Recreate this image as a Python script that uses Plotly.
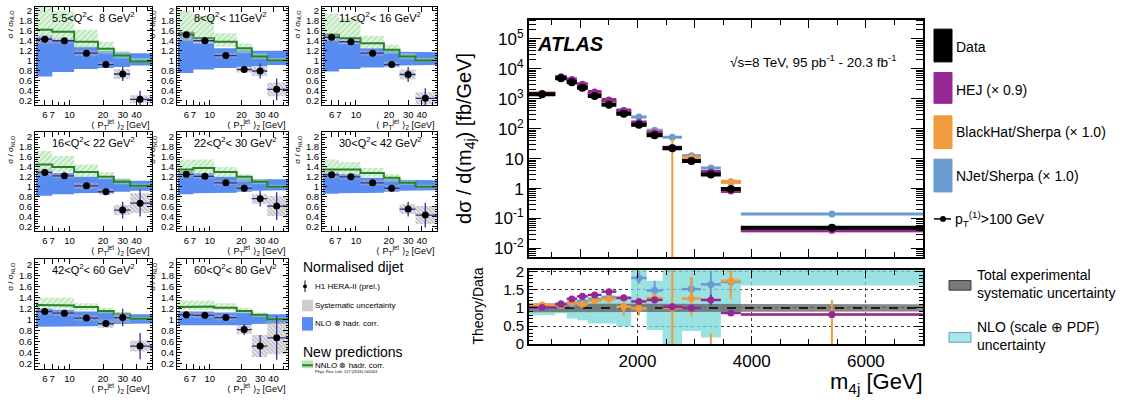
import plotly.graph_objects as go
import math

W, H = 1131, 407
def fx(x): return x / W
def fy(y): return 1 - y / H

# ------------------------------------------------------------------
# LEFT: H1 normalised dijet, sigma / sigma_NLO
# ------------------------------------------------------------------
pt_edges = [5, 7, 11, 18, 25, 35, 55]
pt_points = [6.0, 9.0, 14.2, 21.2, 30.0, 43.0]
pt_ticks = [6, 7, 10, 20, 30, 40]

q2_titles = ["5.5&lt;Q<sup>2</sup>&lt;  8 GeV<sup>2</sup>",
             "8&lt;Q<sup>2</sup>&lt; 11GeV<sup>2</sup>",
             "11&lt;Q<sup>2</sup>&lt; 16 GeV<sup>2</sup>",
             "16&lt;Q<sup>2</sup>&lt; 22 GeV<sup>2</sup>",
             "22&lt;Q<sup>2</sup>&lt; 30 GeV<sup>2</sup>",
             "30&lt;Q<sup>2</sup>&lt; 42 GeV<sup>2</sup>",
             "42&lt;Q<sup>2</sup>&lt; 60 GeV<sup>2</sup>",
             "60&lt;Q<sup>2</sup>&lt; 80 GeV<sup>2</sup>"]

h1_data = [[1.43, 1.40, 1.15, 0.92, 0.73, 0.22],
           [1.52, 1.40, 1.10, 0.82, 0.79, 0.42],
           [1.47, 1.38, 1.15, 0.92, 0.72, 0.24],
           [1.29, 1.22, 1.02, 0.90, 0.53, 0.67],
           [1.25, 1.21, 1.08, 0.97, 0.76, 0.61],
           [1.24, 1.20, 1.08, 0.97, 0.55, 0.43],
           [1.15, 1.12, 1.03, 0.93, 1.04, 0.52],
           [1.09, 1.08, 1.04, 0.82, 0.52, 0.67]]
h1_stat = [[0.06, 0.03, 0.04, 0.04, 0.14, 0.17],
           [0.06, 0.03, 0.04, 0.06, 0.15, 0.22],
           [0.06, 0.03, 0.04, 0.06, 0.15, 0.20],
           [0.05, 0.04, 0.04, 0.06, 0.17, 0.27],
           [0.05, 0.03, 0.04, 0.07, 0.16, 0.28],
           [0.05, 0.04, 0.04, 0.07, 0.15, 0.25],
           [0.05, 0.03, 0.04, 0.06, 0.16, 0.24],
           [0.07, 0.04, 0.05, 0.10, 0.20, 0.40]]
h1_syst = [[0.09, 0.05, 0.06, 0.05, 0.10, 0.08],
           [0.08, 0.05, 0.05, 0.06, 0.10, 0.14],
           [0.08, 0.05, 0.05, 0.06, 0.10, 0.12],
           [0.08, 0.05, 0.06, 0.06, 0.10, 0.20],
           [0.07, 0.05, 0.05, 0.06, 0.10, 0.20],
           [0.07, 0.05, 0.05, 0.06, 0.10, 0.18],
           [0.06, 0.05, 0.05, 0.08, 0.10, 0.10],
           [0.06, 0.05, 0.05, 0.08, 0.20, 0.30]]
nlo_lo = [[0.68, 0.77, 0.83, 0.85, 0.87, 0.90],
          [0.75, 0.82, 0.85, 0.87, 0.89, 0.91],
          [0.78, 0.83, 0.86, 0.88, 0.90, 0.91],
          [0.82, 0.85, 0.87, 0.88, 0.90, 0.92],
          [0.85, 0.87, 0.88, 0.90, 0.92, 0.93],
          [0.86, 0.87, 0.88, 0.90, 0.92, 0.93],
          [0.87, 0.88, 0.88, 0.90, 0.92, 0.93],
          [0.90, 0.90, 0.90, 0.90, 0.92, 0.93]]
nlo_hi = [[1.47, 1.40, 1.28, 1.20, 1.17, 1.15],
          [1.50, 1.35, 1.25, 1.22, 1.20, 1.20],
          [1.45, 1.35, 1.25, 1.20, 1.18, 1.17],
          [1.32, 1.28, 1.20, 1.17, 1.15, 1.12],
          [1.32, 1.28, 1.20, 1.17, 1.15, 1.15],
          [1.28, 1.25, 1.18, 1.16, 1.14, 1.13],
          [1.20, 1.18, 1.15, 1.15, 1.12, 1.10],
          [1.15, 1.15, 1.13, 1.13, 1.10, 1.10]]
nnlo_c = [[1.62, 1.58, 1.38, 1.24, 1.10, 0.98],
          [1.55, 1.45, 1.38, 1.25, 1.08, 1.00],
          [1.52, 1.45, 1.35, 1.22, 1.08, 1.00],
          [1.45, 1.40, 1.30, 1.20, 1.10, 1.02],
          [1.35, 1.38, 1.30, 1.20, 1.10, 1.00],
          [1.35, 1.35, 1.28, 1.18, 1.08, 1.00],
          [1.27, 1.26, 1.23, 1.16, 1.10, 1.02],
          [1.23, 1.24, 1.22, 1.16, 1.09, 1.01]]
nnlo_lo = [[1.48, 1.42, 1.26, 1.14, 1.04, 0.95],
           [1.40, 1.36, 1.28, 1.15, 1.03, 0.97],
           [1.40, 1.35, 1.25, 1.14, 1.03, 0.97],
           [1.30, 1.30, 1.20, 1.15, 1.05, 0.99],
           [1.25, 1.25, 1.20, 1.10, 1.05, 0.97],
           [1.25, 1.25, 1.20, 1.10, 1.04, 0.97],
           [1.22, 1.20, 1.17, 1.12, 1.06, 0.99],
           [1.18, 1.18, 1.17, 1.12, 1.05, 0.98]]
nnlo_hi = [[2.10, 2.00, 1.62, 1.38, 1.20, 1.05],
           [2.00, 1.90, 1.55, 1.35, 1.15, 1.05],
           [1.95, 1.85, 1.50, 1.32, 1.15, 1.05],
           [1.72, 1.62, 1.45, 1.30, 1.17, 1.06],
           [1.55, 1.55, 1.40, 1.25, 1.15, 1.04],
           [1.55, 1.50, 1.38, 1.25, 1.13, 1.04],
           [1.40, 1.40, 1.30, 1.22, 1.14, 1.05],
           [1.35, 1.35, 1.30, 1.22, 1.13, 1.04]]

h1_cols = [(35, 152), (177, 288), (322, 437)]
h1_rows = [(0, 102), (130, 233), (262, 376)]

NLO_BLUE = "rgb(88,140,240)"
GREEN = "rgb(40,130,40)"
ERRBLUE = "rgb(45,45,170)"

fig = go.Figure()
layout = dict(width=W, height=H, margin=dict(l=0, r=0, t=0, b=0),
              paper_bgcolor="white", plot_bgcolor="rgba(0,0,0,0)", showlegend=False,
              font=dict(family="Liberation Sans, Arial, sans-serif", color="black"))
annotations = []
shapes = []

def band_poly(edges, lo, hi):
    xs, ys = [], []
    for i in range(len(lo)):
        xs += [edges[i], edges[i + 1]]
        ys += [hi[i], hi[i]]
    for i in reversed(range(len(lo))):
        xs += [edges[i + 1], edges[i]]
        ys += [lo[i], lo[i]]
    xs.append(xs[0]); ys.append(ys[0])
    return xs, ys

def boxes(edges, c, half):
    xs, ys = [], []
    for i in range(len(c)):
        xs += [edges[i], edges[i + 1], edges[i + 1], edges[i], edges[i], None]
        ys += [c[i] - half[i], c[i] - half[i], c[i] + half[i], c[i] + half[i], c[i] - half[i], None]
    return xs, ys

def steps(edges, v):
    xs, ys = [], []
    for i in range(len(v)):
        xs += [edges[i], edges[i + 1]]
        ys += [v[i], v[i]]
    return xs, ys

y_tickvals = [0.2, 0.4, 0.6, 0.8, 1.0, 1.2, 1.4, 1.6, 1.8, 2.0]
y_ticktext = ["0.2", "0.4", "0.6", "0.8", "1", "1.2", "1.4", "1.6", "1.8", "2"]

for p in range(8):
    n = p + 1
    r, c = divmod(p, 3)
    x0, x1 = h1_cols[c]
    y0, y1 = h1_rows[r]
    xa, ya = "x%d" % n, "y%d" % n
    ax_suffix = "" if n == 1 else str(n)
    yr = [0.1, 2.08] if r == 0 else [0.1, 2.1]
    layout["xaxis" + ax_suffix] = dict(
        domain=[fx(x0), fx(x1)], anchor=ya, type="log",
        range=[math.log10(4.9), math.log10(55)],
        tickmode="array", tickvals=pt_ticks, ticktext=[str(t) for t in pt_ticks], tickangle=0,
        ticks="inside", ticklen=5, tickcolor="black", showline=True, linecolor="black",
        linewidth=1, mirror="ticks", showgrid=False, zeroline=False,
        tickfont=dict(size=9.5),
        minor=dict(tickmode="array", tickvals=[5, 8, 9, 50], ticks="inside", ticklen=3,
                   tickcolor="black", showgrid=False))
    layout["yaxis" + ax_suffix] = dict(
        domain=[fy(y1), fy(y0)], anchor=xa, range=yr,
        tickmode="array", tickvals=y_tickvals, ticktext=y_ticktext,
        ticks="inside", ticklen=5, tickcolor="black", showline=True, linecolor="black",
        linewidth=1, mirror="ticks", showgrid=False, zeroline=False,
        tickfont=dict(size=9.5),
        minor=dict(dtick=0.05, ticks="inside", ticklen=2.5, tickcolor="black", showgrid=False))

    bx, by = band_poly(pt_edges, nlo_lo[p], nlo_hi[p])
    fig.add_trace(go.Scatter(x=bx, y=by, xaxis=xa, yaxis=ya, mode="lines", fill="toself",
                             fillcolor=NLO_BLUE, line=dict(width=0), hoverinfo="skip"))
    gx, gy = band_poly(pt_edges, nnlo_lo[p], nnlo_hi[p])
    fig.add_trace(go.Scatter(x=gx, y=gy, xaxis=xa, yaxis=ya, mode="lines", fill="toself",
                             fillcolor="rgba(0,0,0,0)",
                             fillpattern=dict(shape="/", fgcolor="rgba(110,200,110,0.9)",
                                              bgcolor="rgba(190,235,190,0.45)", size=4, solidity=0.35),
                             line=dict(width=0), hoverinfo="skip"))
    sx, sy = steps(pt_edges, nnlo_c[p])
    fig.add_trace(go.Scatter(x=sx, y=sy, xaxis=xa, yaxis=ya, mode="lines",
                             line=dict(color=GREEN, width=2), hoverinfo="skip"))
    ox, oy = boxes(pt_edges, h1_data[p], h1_syst[p])
    fig.add_trace(go.Scatter(x=ox, y=oy, xaxis=xa, yaxis=ya, mode="lines", fill="toself",
                             fillcolor="rgba(0,0,0,0)",
                             fillpattern=dict(shape="\\", fgcolor="rgba(90,90,90,0.85)",
                                              bgcolor="rgba(200,200,200,0.45)", size=3, solidity=0.3),
                             line=dict(width=0), hoverinfo="skip"))
    fig.add_trace(go.Scatter(
        x=pt_points, y=h1_data[p], xaxis=xa, yaxis=ya, mode="markers",
        marker=dict(color="black", size=7),
        error_y=dict(type="data", array=h1_stat[p], color=ERRBLUE, thickness=1.3, width=0),
        error_x=dict(type="data",
                     array=[pt_edges[i + 1] - pt_points[i] for i in range(6)],
                     arrayminus=[pt_points[i] - pt_edges[i] for i in range(6)],
                     color=ERRBLUE, thickness=1.3, width=0),
        hoverinfo="skip"))

    annotations.append(dict(xref="paper", yref="paper", x=fx(x0 + 15), y=fy(y0 + 10),
                            text=q2_titles[p], showarrow=False, xanchor="left", yanchor="middle",
                            font=dict(size=11)))
    annotations.append(dict(xref="paper", yref="paper", x=fx(x0 - 24), y=fy(y0 + 1),
                            text="σ / σ<sub>NLO</sub>", textangle=-90, showarrow=False,
                            xanchor="center", yanchor="top", font=dict(size=8)))
    annotations.append(dict(xref="paper", yref="paper", x=fx(x1), y=fy(y1 + 11),
                            text="⟨ P<sub>T</sub><sup>jet</sup> ⟩<sub>2</sub> [GeV]", showarrow=False,
                            xanchor="right", yanchor="top", font=dict(size=9)))

# left legend
annotations += [
    dict(xref="paper", yref="paper", x=fx(301), y=fy(270), text="Normalised dijet", showarrow=False,
         xanchor="left", yanchor="middle", font=dict(size=14)),
    dict(xref="paper", yref="paper", x=fx(313), y=fy(290), text="H1 HERA-II (prel.)", showarrow=False,
         xanchor="left", yanchor="middle", font=dict(size=8)),
    dict(xref="paper", yref="paper", x=fx(313), y=fy(310), text="Systematic uncertainty", showarrow=False,
         xanchor="left", yanchor="middle", font=dict(size=8)),
    dict(xref="paper", yref="paper", x=fx(313), y=fy(329), text="NLO ⊗ hadr. corr.", showarrow=False,
         xanchor="left", yanchor="middle", font=dict(size=8)),
    dict(xref="paper", yref="paper", x=fx(301), y=fy(358), text="New predictions", showarrow=False,
         xanchor="left", yanchor="middle", font=dict(size=14)),
    dict(xref="paper", yref="paper", x=fx(313), y=fy(372), text="NNLO ⊗ hadr. corr.", showarrow=False,
         xanchor="left", yanchor="middle", font=dict(size=8)),
    dict(xref="paper", yref="paper", x=fx(313), y=fy(378), text="Phys. Rev. Lett. 117 (2016) 042001",
         showarrow=False, xanchor="left", yanchor="middle", font=dict(size=4)),
]
shapes += [
    dict(type="line", xref="paper", yref="paper", x0=fx(305), x1=fx(305), y0=fy(284), y1=fy(296),
         line=dict(color="black", width=1)),
    dict(type="circle", xref="paper", yref="paper", x0=fx(303), x1=fx(307), y0=fy(292), y1=fy(288),
         fillcolor="black", line=dict(width=0)),
    dict(type="rect", xref="paper", yref="paper", x0=fx(302), x1=fx(313), y0=fy(316), y1=fy(304),
         fillcolor="rgb(205,205,205)", line=dict(width=0)),
    dict(type="rect", xref="paper", yref="paper", x0=fx(302), x1=fx(313), y0=fy(336), y1=fy(322),
         fillcolor=NLO_BLUE, line=dict(width=0)),
    dict(type="rect", xref="paper", yref="paper", x0=fx(302), x1=fx(313), y0=fy(375), y1=fy(367),
         fillcolor="rgb(180,230,180)", line=dict(width=0)),
    dict(type="line", xref="paper", yref="paper", x0=fx(302), x1=fx(313), y0=fy(372), y1=fy(372),
         line=dict(color=GREEN, width=2)),
]

# ------------------------------------------------------------------
# RIGHT: ATLAS m4j
# ------------------------------------------------------------------
m4j_edges = [100, 560, 760, 940, 1130, 1370, 1630, 1890, 2160, 2440, 2780, 3110, 3460, 3810, 7000]
data_xs = [1420, 4900, 3550, 2330, 1230, 630, 316, 136, 60, 22.4, 8.3, 2.95, 0.97, 0.049]
hej_ratio = [1.01, 1.10, 1.25, 1.32, 1.36, 1.45, 1.28, 1.18, 1.22, 1.03, 1.00, 1.22, 0.86, 0.82]
hej_err = [0.03, 0.03, 0.03, 0.04, 0.04, 0.04, 0.05, 0.05, 0.08, 0.10, 0.10, 0.15, 0.05, 0.05]
bh_ratio = [1.08, 1.07, 1.15, 1.10, 1.20, 1.25, 1.03, 0.99, 1.27, 1.00, 1.26, -0.30, 1.75, 0.82]
bh_err_up = [0.05, 0.05, 0.05, 0.05, 0.08, 0.08, 0.20, 0.20, 0.15, 1.05, 0.60, 0.60, 0.40, 0.40]
bh_err_dn = [0.05, 0.05, 0.05, 0.05, 0.08, 0.08, 0.25, 0.20, 0.15, 1.00, 0.50, 0.60, 0.50, 0.82]
bh_main_dn = [0.05, 0.05, 0.05, 0.05, 0.08, 0.08, 0.25, 0.20, 0.15, 1.00, 0.50, 0.60, 0.30, 0.05]
nj_ratio = [1.00, 1.12, 1.11, 1.18, 1.24, 1.29, 1.27, 1.83, 1.48, 2.30, 1.52, 1.65, 1.72, 2.90]
nj_err = [0.03, 0.03, 0.04, 0.05, 0.05, 0.06, 0.08, 0.15, 0.27, 0.30, 0.30, 0.35, 0.30, 0.10]
nlo_unc_lo = [0.80, 0.85, 0.71, 0.66, 0.57, 0.57, 0.48, 0.95, 0.39, 0.00, 0.36, 0.18, 0.85, 1.62]
nlo_unc_hi = [1.12, 1.15, 1.20, 1.25, 1.30, 1.35, 1.30, 2.05, 1.75, 2.05, 2.05, 2.05, 2.05, 2.05]
syst_unc = [0.12, 0.11, 0.10, 0.10, 0.10, 0.10, 0.10, 0.10, 0.10, 0.10, 0.10, 0.10, 0.10, 0.10]

m4j_c = [(m4j_edges[i] + m4j_edges[i + 1]) / 2 for i in range(14)]
ex_r = [m4j_edges[i + 1] - m4j_c[i] for i in range(14)]
ex_l = [m4j_c[i] - m4j_edges[i] for i in range(14)]

C_DATA = "black"
C_HEJ = "rgb(150,40,150)"
C_BH = "rgb(240,155,60)"
C_NJ = "rgb(105,155,210)"
C_CYAN = "rgba(120,215,215,0.75)"
C_GRAY = "rgba(95,95,95,0.75)"

MX0, MX1, MY0, MY1 = 529, 923, 13, 260
RX0, RX1, RY0, RY1 = 529, 923, 273, 350

dec_vals = [1e-2, 1e-1, 1, 10, 1e2, 1e3, 1e4, 1e5]
dec_text = ["10<sup>-2</sup>", "10<sup>-1</sup>", "1", "10", "10<sup>2</sup>", "10<sup>3</sup>",
            "10<sup>4</sup>", "10<sup>5</sup>"]
minor_log = [k * 10.0 ** d for d in range(-3, 6) for k in range(2, 10)]

layout["xaxis9"] = dict(domain=[fx(MX0), fx(MX1)], anchor="y9", range=[100, 7000],
                        showticklabels=False, dtick=1000, tick0=0, ticks="inside", ticklen=8,
                        tickcolor="black", showline=True, linecolor="black", linewidth=2,
                        mirror="ticks", showgrid=False, zeroline=False,
                        minor=dict(dtick=500, ticks="inside", ticklen=5, tickcolor="black"))
layout["yaxis9"] = dict(domain=[fy(MY1), fy(MY0)], anchor="x9", type="log",
                        range=[math.log10(0.005), 5.65], tickmode="array", tickvals=dec_vals,
                        ticktext=dec_text, ticks="inside", ticklen=12, tickcolor="black",
                        showline=True, linecolor="black", linewidth=2, mirror="ticks",
                        showgrid=False, zeroline=False, tickfont=dict(size=17),
                        minor=dict(tickmode="array", tickvals=minor_log, ticks="inside", ticklen=7,
                                   tickcolor="black", showgrid=False))
layout["xaxis10"] = dict(domain=[fx(RX0), fx(RX1)], anchor="y10", range=[100, 7000],
                         tickmode="array", tickvals=[2000, 4000, 6000], ticktext=["2000", "4000", "6000"],
                         ticks="inside", ticklen=8, tickcolor="black", showline=True, linecolor="black",
                         linewidth=2, mirror="ticks", showgrid=True, gridcolor="rgb(60,60,60)",
                         griddash="dot", gridwidth=1, zeroline=False, tickfont=dict(size=17),
                         minor=dict(dtick=500, tick0=0, ticks="inside", ticklen=5, tickcolor="black"))
layout["yaxis10"] = dict(domain=[fy(RY1), fy(RY0)], anchor="x10", range=[0, 2.05],
                         tickmode="array", tickvals=[0, 0.5, 1, 1.5, 2], ticktext=["0", "0.5", "1", "1.5", "2"],
                         ticks="inside", ticklen=8, tickcolor="black", showline=True, linecolor="black",
                         linewidth=2, mirror="ticks", showgrid=True, gridcolor="rgb(60,60,60)",
                         griddash="dot", gridwidth=1, zeroline=False, tickfont=dict(size=15),
                         minor=dict(dtick=0.1, tick0=0, ticks="inside", ticklen=4, tickcolor="black",
                                    showgrid=False))

# ratio bands
cx, cy = boxes(m4j_edges, [(a + b) / 2 for a, b in zip(nlo_unc_lo, nlo_unc_hi)],
               [(b - a) / 2 for a, b in zip(nlo_unc_lo, nlo_unc_hi)])
fig.add_trace(go.Scatter(x=cx, y=cy, xaxis="x10", yaxis="y10", mode="lines", fill="toself",
                         fillcolor=C_CYAN, line=dict(width=0), hoverinfo="skip"))
gbx, gby = band_poly(m4j_edges, [1 - s for s in syst_unc], [1 + s for s in syst_unc])
fig.add_trace(go.Scatter(x=gbx, y=gby, xaxis="x10", yaxis="y10", mode="lines", fill="toself",
                         fillcolor=C_GRAY, line=dict(width=0), hoverinfo="skip"))
fig.add_trace(go.Scatter(x=[100, 7000], y=[1, 1], xaxis="x10", yaxis="y10", mode="lines",
                         line=dict(color="black", width=1.5, dash="dash"), hoverinfo="skip"))

def ratio_trace(r, up, dn, color, th):
    return go.Scatter(x=m4j_c, y=r, xaxis="x10", yaxis="y10", mode="markers",
                      marker=dict(color=color, size=7),
                      error_y=dict(type="data", array=up, arrayminus=dn, color=color, thickness=2, width=0),
                      error_x=dict(type="data", array=ex_r, arrayminus=ex_l, color=color, thickness=th, width=0),
                      hoverinfo="skip")

fig.add_trace(ratio_trace(nj_ratio, nj_err, nj_err, C_NJ, 2.5))
fig.add_trace(ratio_trace(bh_ratio, bh_err_up, bh_err_dn, C_BH, 2.5))
fig.add_trace(ratio_trace(hej_ratio, hej_err, hej_err, C_HEJ, 2.5))

# main panel: theory = ratio x data
def main_trace(r, up, dn, color, th, size):
    y = [a * d for a, d in zip(r, data_xs)]
    return go.Scatter(x=m4j_c, y=y, xaxis="x9", yaxis="y9", mode="markers",
                      marker=dict(color=color, size=size),
                      error_y=dict(type="data", array=[u * d for u, d in zip(up, data_xs)],
                                   arrayminus=[min(v * d, yy * 0.9999) for v, d, yy in zip(dn, data_xs, y)],
                                   color=color, thickness=2, width=0),
                      error_x=dict(type="data", array=ex_r, arrayminus=ex_l, color=color, thickness=th, width=0),
                      hoverinfo="skip")

fig.add_trace(main_trace(nj_ratio, nj_err, nj_err, C_NJ, 3, 7))
fig.add_trace(main_trace(bh_ratio, bh_err_up, bh_main_dn, C_BH, 4, 7))
fig.add_trace(main_trace(hej_ratio, hej_err, hej_err, C_HEJ, 4, 7))
fig.add_trace(go.Scatter(x=m4j_c, y=data_xs, xaxis="x9", yaxis="y9", mode="markers",
                         marker=dict(color=C_DATA, size=8),
                         error_x=dict(type="data", array=ex_r, arrayminus=ex_l, color=C_DATA,
                                      thickness=4, width=0),
                         hoverinfo="skip"))

annotations += [
    dict(xref="paper", yref="paper", x=fx(535), y=fy(38), text="<b><i>ATLAS</i></b>", showarrow=False,
         xanchor="left", yanchor="middle", font=dict(size=20)),
    dict(xref="paper", yref="paper", x=fx(898), y=fy(56),
         text="√s=8 TeV, 95 pb<sup>-1</sup> - 20.3 fb<sup>-1</sup>", showarrow=False,
         xanchor="right", yanchor="middle", font=dict(size=13.5)),
    dict(xref="paper", yref="paper", x=fx(466), y=fy(137),
         text="dσ / d(m<sub>4j</sub>) [fb/GeV]", textangle=-90, showarrow=False,
         xanchor="center", yanchor="middle", font=dict(size=20)),
    dict(xref="paper", yref="paper", x=fx(478), y=fy(311), text="Theory/Data", textangle=-90,
         showarrow=False, xanchor="center", yanchor="middle", font=dict(size=14)),
    dict(xref="paper", yref="paper", x=fx(925), y=0, text="m<sub>4j</sub> [GeV]",
         showarrow=False, xanchor="right", yanchor="bottom", font=dict(size=22)),
]

# right legend
leg = [("Data", C_DATA, 23, 57, 42), ("HEJ (× 0.9)", C_HEJ, 68, 100, 86),
       ("BlackHat/Sherpa (× 1.0)", C_BH, 113, 147, 130), ("NJet/Sherpa (× 1.0)", C_NJ, 158, 192, 175)]
for txt, col, ya0, ya1, yt in leg:
    shapes.append(dict(type="rect", xref="paper", yref="paper", x0=fx(934), x1=fx(952),
                       y0=fy(ya1), y1=fy(ya0), fillcolor=col, line=dict(color=col, width=1)))
    annotations.append(dict(xref="paper", yref="paper", x=fx(954), y=fy(yt), text=txt, showarrow=False,
                            xanchor="left", yanchor="middle", font=dict(size=14)))
shapes += [
    dict(type="line", xref="paper", yref="paper", x0=fx(934), x1=fx(951), y0=fy(220), y1=fy(220),
         line=dict(color="black", width=1.5)),
    dict(type="circle", xref="paper", yref="paper", x0=fx(940), x1=fx(946), y0=fy(223), y1=fy(217),
         fillcolor="black", line=dict(width=0)),
    dict(type="rect", xref="paper", yref="paper", x0=fx(949), x1=fx(971), y0=fy(294), y1=fy(284),
         fillcolor="rgb(120,120,120)", line=dict(color="rgb(60,60,60)", width=1)),
    dict(type="rect", xref="paper", yref="paper", x0=fx(949), x1=fx(971), y0=fy(348), y1=fy(338),
         fillcolor="rgb(170,230,230)", line=dict(color="rgb(100,160,210)", width=1)),
]
annotations += [
    dict(xref="paper", yref="paper", x=fx(953), y=fy(220), text="p<sub>T</sub><sup>(1)</sup>&gt;100 GeV",
         showarrow=False, xanchor="left", yanchor="middle", font=dict(size=14)),
    dict(xref="paper", yref="paper", x=fx(975), y=fy(288),
         text="Total experimental<br>systematic uncertainty", showarrow=False, xanchor="left",
         yanchor="middle", align="left", font=dict(size=14)),
    dict(xref="paper", yref="paper", x=fx(975), y=fy(342),
         text="NLO (scale ⊕ PDF)<br>uncertainty", showarrow=False, xanchor="left",
         yanchor="middle", align="left", font=dict(size=14)),
]

layout["annotations"] = annotations
layout["shapes"] = shapes
fig.update_layout(**layout)
fig.write_html("out.html")
